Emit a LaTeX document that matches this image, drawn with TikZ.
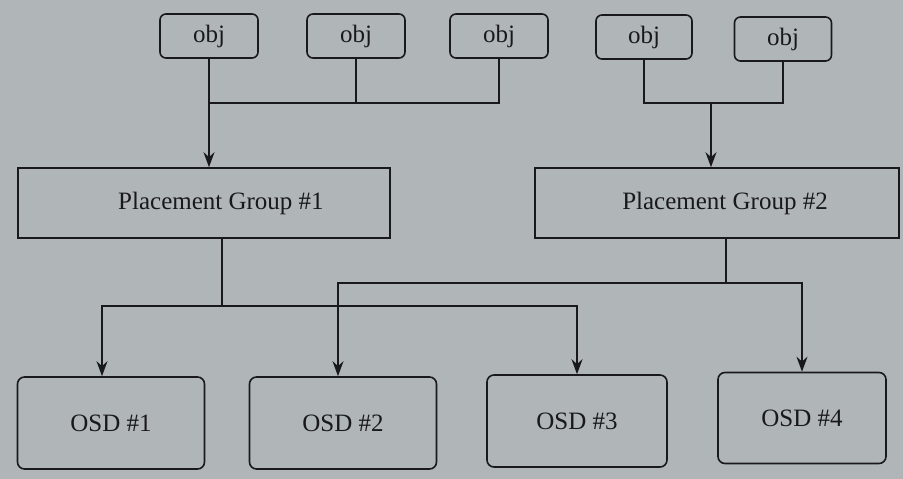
\documentclass[tikz,border=0pt]{standalone}
\usepackage{fontspec}
\setmainfont{Liberation Serif}
\usetikzlibrary{arrows.meta}
\definecolor{paper}{RGB}{176,182,184}
\definecolor{ink}{RGB}{25,25,28}
\begin{document}
\begin{tikzpicture}[x=1pt,y=-1pt,
  lbl/.style={font=\fontsize{25}{27}\selectfont,text=ink},
  objbox/.style={lbl,draw=ink,line width=1.6pt,rounded corners=6pt,minimum width=98pt,minimum height=44pt,inner sep=0pt},
  pgbox/.style={lbl,draw=ink,line width=1.6pt,minimum height=70pt,inner sep=0pt},
  osdbox/.style={lbl,draw=ink,line width=1.6pt,rounded corners=7pt,minimum height=92pt,inner sep=0pt},
  conn/.style={draw=ink,line width=1.6pt},
  arr/.style={conn,-{Stealth[length=15pt,width=11pt]}}]
\fill[paper] (0,0) rectangle (903,479);
\useasboundingbox (0,0) rectangle (903,479);
% obj boxes
\node[objbox] (o1) at (209,36) {obj};
\node[objbox] (o2) at (356,36) {obj};
\node[objbox] (o3) at (499,36) {obj};
\node[objbox,minimum width=96pt] (o4) at (644,37) {obj};
\node[objbox,minimum width=97pt] (o5) at (783,39) {obj};
% placement groups
\node[pgbox,minimum width=372pt] (pg1) at (204,203) {\hspace*{34pt}Placement Group \#1};
\node[pgbox,minimum width=364pt] (pg2) at (717,203) {\hspace*{16pt}Placement Group \#2};
% OSDs
\node[osdbox,minimum width=187pt] (s1) at (111,423) {OSD \#1};
\node[osdbox,minimum width=187pt] (s2) at (343,423) {OSD \#2};
\node[osdbox,minimum width=180pt] (s3) at (577,421) {OSD \#3};
\node[osdbox,minimum width=168pt,minimum height=91pt] (s4) at (802,418) {OSD \#4};
% junctions
\coordinate (j1) at (209,103);
\coordinate (j2) at (711,103);
\coordinate (j3) at (222,306);
\coordinate (j4) at (726,283);
% obj -> PG1
\draw[conn] (o2.south) -- (o2.south |- j1);
\draw[conn] (o3.south) |- (j1);
\draw[arr] (o1.south) -- (o1.south |- pg1.north);
% obj -> PG2
\draw[conn] (o4.south) |- (o5.south |- j2) -- (o5.south);
\draw[arr] (j2) -- (j2 |- pg2.north);
% PG1 -> OSD1, OSD3
\draw[conn] (pg1.south -| j3) -- (j3);
\draw[arr] (j3) -| ([xshift=-9pt]s1.north);
\draw[arr] (j3) -| (s3.north);
% PG2 -> OSD2, OSD4
\draw[conn] (pg2.south -| j4) -- (j4);
\draw[arr] (j4) -| ([xshift=-5pt]s2.north);
\draw[arr] (j4) -| (s4.north);
\end{tikzpicture}
\end{document}
